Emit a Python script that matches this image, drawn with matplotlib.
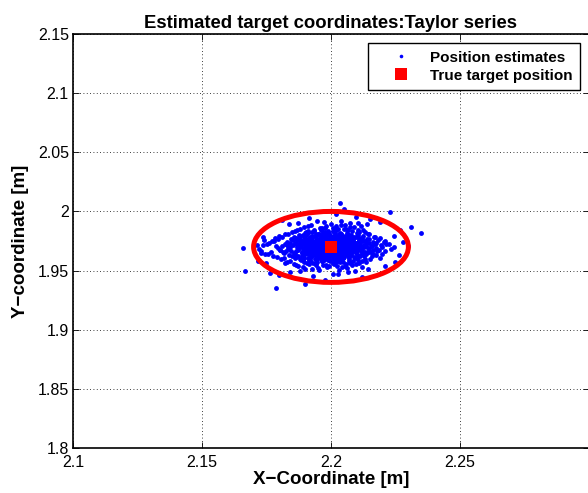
import matplotlib
matplotlib.use("Agg")
import matplotlib.pyplot as plt
from matplotlib.patches import Ellipse

plt.rcParams['font.family'] = ['Liberation Sans', 'DejaVu Sans']

# ---------------- data ----------------
title = "Estimated target coordinates:Taylor series"
x_label = "X\u2212Coordinate [m]"
y_label = "Y\u2212coordinate [m]"

x_ticks = [2.1, 2.15, 2.2, 2.25]
x_tick_labels = ["2.1", "2.15", "2.2", "2.25"]
y_ticks = [1.8, 1.85, 1.9, 1.95, 2.0, 2.05, 2.1, 2.15]
y_tick_labels = ["1.8", "1.85", "1.9", "1.95", "2", "2.05", "2.1", "2.15"]
x_limits = [2.1, 2.3]
y_limits = [1.8, 2.15]

true_x = [2.2]
true_y = [1.97]

ellipse_center = (2.2, 1.97)
ellipse_radius_x = 0.03
ellipse_radius_y = 0.03

est_x = [
    2.1785, 2.1842, 2.1876, 2.1891, 2.1914, 2.1923, 2.1939, 2.1952, 2.1961, 2.1976, 2.1983, 2.1997,
    2.2008, 2.2019, 2.2027, 2.2041, 2.2053, 2.2064, 2.2072, 2.2093, 2.2106, 2.2129, 2.2154, 2.2198,
    2.1752, 2.1828, 2.1869, 2.1885, 2.1906, 2.1921, 2.1934, 2.1948, 2.1965, 2.1972, 2.1989, 2.2002,
    2.2013, 2.2025, 2.2036, 2.2047, 2.2060, 2.2078, 2.2089, 2.2112, 2.2135, 2.2169, 2.2223,
    2.1804, 2.1837, 2.1872, 2.1898, 2.1910, 2.1929, 2.1941, 2.1956, 2.1967, 2.1979, 2.1991, 2.2004,
    2.2015, 2.2022, 2.2034, 2.2050, 2.2058, 2.2070, 2.2084, 2.2101, 2.2122, 2.2146, 2.2185,
    2.1779, 2.1840, 2.1880, 2.1896, 2.1919, 2.1930, 2.1945, 2.1958, 2.1970, 2.1981, 2.1994,
    2.2009, 2.2020, 2.2031, 2.2044, 2.2056, 2.2069, 2.2082, 2.2098, 2.2124, 2.2149, 2.2206,
    2.1767, 2.1825, 2.1863, 2.1889, 2.1904, 2.1926, 2.1937, 2.1954, 2.1968, 2.1977, 2.1990,
    2.2001, 2.2014, 2.2028, 2.2039, 2.2051, 2.2066, 2.2080, 2.2096, 2.2117, 2.2142, 2.2178,
    2.1796, 2.1854, 2.1882, 2.1908, 2.1924, 2.1942, 2.1955, 2.1971, 2.1986, 2.1998,
    2.2011, 2.2024, 2.2038, 2.2054, 2.2068, 2.2087, 2.2109, 2.2138, 2.2181,
    2.1744, 2.1818, 2.1861, 2.1890, 2.1917, 2.1931, 2.1950, 2.1964, 2.1980, 2.1993,
    2.2006, 2.2018, 2.2033, 2.2046, 2.2062, 2.2079, 2.2103, 2.2126, 2.2162,
    2.1811, 2.1866, 2.1894, 2.1916, 2.1938, 2.1957, 2.1974, 2.1988,
    2.2005, 2.2021, 2.2035, 2.2052, 2.2074, 2.2095, 2.2121, 2.2166,
    2.1790, 2.1849, 2.1887, 2.1909, 2.1933, 2.1951, 2.1969, 2.1985,
    2.2003, 2.2017, 2.2030, 2.2049, 2.2065, 2.2088, 2.2114, 2.2158,
    2.1833, 2.1878, 2.1903, 2.1928, 2.1949, 2.1966, 2.1984,
    2.2000, 2.2016, 2.2032, 2.2055, 2.2077, 2.2104, 2.2143,
    2.1808, 2.1860, 2.1892, 2.1920, 2.1944, 2.1962, 2.1978,
    2.1996, 2.2012, 2.2029, 2.2045, 2.2071, 2.2099, 2.2132,
    2.1847, 2.1899, 2.1927, 2.1953, 2.1975, 2.1992, 2.2010, 2.2037, 2.2063, 2.2110,
    2.1830, 2.1884, 2.1918, 2.1947, 2.1973, 2.1995, 2.2023, 2.2048, 2.2085, 2.2137,
    2.1870, 2.1912, 2.1960, 2.1987, 2.2026, 2.2067, 2.2125,
    2.1856, 2.1907, 2.1943, 2.1982, 2.2019, 2.2059, 2.2108,
    2.1895, 2.1956, 2.2007, 2.2050, 2.2091,
    2.1873, 2.1940, 2.1991, 2.2042, 2.2081,
    2.1922, 2.1979, 2.2039, 2.2116,
    2.1901, 2.1986, 2.2061,
    2.1874, 2.1999, 2.2075,
    2.1954, 2.2094,
    2.1947, 2.2040,
    2.1843, 2.2028,
    2.2098, 2.1913,
    2.1932, 2.2120,
    2.2020,
    2.1976,
    2.1659, 2.1667, 2.1787, 2.2035, 2.2229, 2.2050, 2.2349, 2.2310, 2.1900,
    2.1717, 2.1740, 2.1764, 2.2267, 2.2298, 2.2248, 2.2190,
    2.2280, 2.2262, 2.2245, 2.2210,
    2.1712, 2.1728, 2.1735, 2.1750,
    2.1737, 2.1809, 2.1852, 2.1879, 2.1901, 2.1917, 2.1932, 2.1944, 2.1959, 2.1971, 2.1981, 2.1992,
    2.2004, 2.2014, 2.2029, 2.2039, 2.2057, 2.2073, 2.2081, 2.2100, 2.2127, 2.2159, 2.2194, 2.2246,
    2.1720, 2.1794, 2.1835, 2.1867, 2.1890, 2.1905, 2.1925, 2.1936, 2.1949, 2.1964, 2.1978, 2.1988,
    2.2001, 2.2011, 2.2023, 2.2035, 2.2049, 2.2063, 2.2076, 2.2097, 2.2118, 2.2144, 2.2176, 2.2231,
    2.1760, 2.1820, 2.1859, 2.1883, 2.1907, 2.1924, 2.1940, 2.1955, 2.1967, 2.1980, 2.1993,
    2.2006, 2.2018, 2.2030, 2.2043, 2.2059, 2.2075, 2.2092, 2.2113, 2.2139, 2.2173, 2.2214,
    2.1729, 2.1801, 2.1846, 2.1874, 2.1897, 2.1915, 2.1930, 2.1946, 2.1960, 2.1974, 2.1987,
    2.2000, 2.2012, 2.2025, 2.2037, 2.2052, 2.2067, 2.2086, 2.2104, 2.2130, 2.2164, 2.2208,
    2.1770, 2.1831, 2.1868, 2.1893, 2.1911, 2.1931, 2.1947, 2.1961, 2.1977, 2.1990,
    2.2003, 2.2017, 2.2033, 2.2048, 2.2065, 2.2083, 2.2107, 2.2131, 2.2163, 2.2210,
    2.1756, 2.1814, 2.1857, 2.1886, 2.1910, 2.1927, 2.1943, 2.1957, 2.1972, 2.1985,
    2.1999, 2.2013, 2.2027, 2.2041, 2.2058, 2.2077, 2.2096, 2.2120, 2.2152, 2.2199,
    2.1783, 2.1844, 2.1877, 2.1904, 2.1926, 2.1945, 2.1963, 2.1980, 2.1996,
    2.2010, 2.2026, 2.2044, 2.2062, 2.2084, 2.2110, 2.2146, 2.2190,
    2.1774, 2.1839, 2.1871, 2.1900, 2.1922, 2.1941, 2.1959, 2.1976, 2.1994,
    2.2009, 2.2024, 2.2040, 2.2056, 2.2078, 2.2102, 2.2134, 2.2175,
    2.1800, 2.1858, 2.1891, 2.1920, 2.1941, 2.1964, 2.1982,
    2.2002, 2.2022, 2.2042, 2.2066, 2.2090, 2.2123, 2.2170,
    2.1817, 2.1864, 2.1896, 2.1923, 2.1946, 2.1970, 2.1989,
    2.2008, 2.2026, 2.2046, 2.2069, 2.2093, 2.2128, 2.2188,
    2.1822, 2.1875, 2.1911, 2.1940, 2.1968, 2.1991, 2.2015, 2.2040, 2.2070, 2.2101, 2.2148,
    2.1840, 2.1881, 2.1914, 2.1939, 2.1965, 2.1990, 2.2016, 2.2039, 2.2068, 2.2106, 2.2151,
    2.1860, 2.1902, 2.1936, 2.1970, 2.2009, 2.2036, 2.2080, 2.2133,
    2.1820, 2.1894, 2.1930, 2.1967, 2.2006, 2.2034, 2.2074, 2.2122,
    2.1880, 2.1934, 2.1978, 2.2021, 2.2060, 2.2105,
    2.1865, 2.1916, 2.1969, 2.2010, 2.2054, 2.2097,
    2.1910, 2.1967, 2.2018, 2.2072,
    2.1890, 2.1951, 2.2025, 2.2119,
    2.1839, 2.2055, 2.2140,
    2.1928, 2.2031, 2.2144,
    2.1972, 2.2103,
    2.1878, 2.2064,
    2.2153, 2.1812,
    2.2009, 2.1800,
]
est_y = [
    1.9706, 1.9696, 1.9702, 1.9693, 1.9709, 1.9699, 1.9704, 1.9691, 1.9700, 1.9707, 1.9695, 1.9703,
    1.9698, 1.9708, 1.9694, 1.9701, 1.9692, 1.9705, 1.9697, 1.9709, 1.9690, 1.9702, 1.9706, 1.9696,
    1.9726, 1.9716, 1.9722, 1.9713, 1.9729, 1.9719, 1.9724, 1.9711, 1.9720, 1.9727, 1.9715, 1.9723,
    1.9718, 1.9728, 1.9714, 1.9721, 1.9712, 1.9725, 1.9717, 1.9729, 1.9710, 1.9722, 1.9726,
    1.9676, 1.9686, 1.9682, 1.9670, 1.9689, 1.9677, 1.9685, 1.9672, 1.9681, 1.9674, 1.9688, 1.9678,
    1.9683, 1.9675, 1.9687, 1.9680, 1.9671, 1.9684, 1.9679, 1.9689, 1.9673, 1.9682, 1.9676,
    1.9746, 1.9736, 1.9742, 1.9733, 1.9749, 1.9739, 1.9744, 1.9731, 1.9740, 1.9747, 1.9735,
    1.9743, 1.9738, 1.9748, 1.9734, 1.9741, 1.9732, 1.9745, 1.9737, 1.9749, 1.9730, 1.9742,
    1.9656, 1.9666, 1.9662, 1.9650, 1.9669, 1.9657, 1.9665, 1.9652, 1.9661, 1.9654, 1.9668,
    1.9658, 1.9663, 1.9655, 1.9667, 1.9660, 1.9651, 1.9664, 1.9659, 1.9669, 1.9653, 1.9662,
    1.9766, 1.9756, 1.9762, 1.9753, 1.9769, 1.9759, 1.9764, 1.9751, 1.9760, 1.9767,
    1.9755, 1.9763, 1.9758, 1.9768, 1.9754, 1.9761, 1.9752, 1.9765, 1.9757,
    1.9636, 1.9646, 1.9642, 1.9630, 1.9649, 1.9637, 1.9645, 1.9632, 1.9641, 1.9634,
    1.9648, 1.9638, 1.9643, 1.9635, 1.9647, 1.9640, 1.9631, 1.9644, 1.9639,
    1.9786, 1.9776, 1.9782, 1.9773, 1.9789, 1.9779, 1.9784, 1.9771,
    1.9780, 1.9787, 1.9775, 1.9783, 1.9778, 1.9788, 1.9774, 1.9781,
    1.9616, 1.9626, 1.9622, 1.9610, 1.9629, 1.9617, 1.9625, 1.9612,
    1.9621, 1.9614, 1.9628, 1.9618, 1.9623, 1.9615, 1.9627, 1.9620,
    1.9806, 1.9796, 1.9802, 1.9793, 1.9809, 1.9799, 1.9804,
    1.9791, 1.9800, 1.9807, 1.9795, 1.9803, 1.9798, 1.9808,
    1.9596, 1.9606, 1.9602, 1.9590, 1.9609, 1.9597, 1.9605,
    1.9592, 1.9601, 1.9594, 1.9608, 1.9598, 1.9603, 1.9595,
    1.9826, 1.9816, 1.9822, 1.9813, 1.9829, 1.9819, 1.9824, 1.9811, 1.9820, 1.9827,
    1.9576, 1.9586, 1.9582, 1.9570, 1.9589, 1.9577, 1.9585, 1.9572, 1.9581, 1.9574,
    1.9846, 1.9836, 1.9842, 1.9833, 1.9849, 1.9839, 1.9844,
    1.9556, 1.9566, 1.9562, 1.9550, 1.9569, 1.9557, 1.9565,
    1.9866, 1.9856, 1.9862, 1.9853, 1.9869,
    1.9536, 1.9546, 1.9542, 1.9530, 1.9549,
    1.9886, 1.9876, 1.9882, 1.9873,
    1.9516, 1.9526, 1.9522,
    1.9906, 1.9896, 1.9902,
    1.9504, 1.9496,
    1.9923, 1.9915,
    1.9484, 1.9475,
    1.9952, 1.9947,
    1.9453, 1.9446,
    1.9978,
    1.9421,
    1.9690, 1.9500, 1.9350, 2.0070, 1.9994, 2.0020, 1.9817, 1.9868, 1.9386,
    1.9580, 1.9758, 1.9479, 1.9842, 1.9707, 1.9572, 1.9910,
    1.9745, 1.9630, 1.9790, 1.9535,
    1.9712, 1.9650, 1.9780, 1.9560,
    1.9713, 1.9704, 1.9717, 1.9706, 1.9712, 1.9701, 1.9718, 1.9708, 1.9703, 1.9715, 1.9710, 1.9702,
    1.9716, 1.9707, 1.9714, 1.9705, 1.9719, 1.9709, 1.9700, 1.9711, 1.9717, 1.9706, 1.9713, 1.9703,
    1.9683, 1.9695, 1.9687, 1.9698, 1.9681, 1.9692, 1.9686, 1.9697, 1.9680, 1.9690, 1.9694, 1.9684,
    1.9699, 1.9688, 1.9682, 1.9696, 1.9689, 1.9685, 1.9693, 1.9681, 1.9698, 1.9687, 1.9691, 1.9684,
    1.9733, 1.9724, 1.9737, 1.9726, 1.9732, 1.9721, 1.9738, 1.9728, 1.9723, 1.9735, 1.9730,
    1.9722, 1.9736, 1.9727, 1.9734, 1.9725, 1.9739, 1.9729, 1.9720, 1.9731, 1.9737, 1.9726,
    1.9663, 1.9675, 1.9667, 1.9678, 1.9661, 1.9672, 1.9666, 1.9677, 1.9660, 1.9670, 1.9674,
    1.9664, 1.9679, 1.9668, 1.9662, 1.9676, 1.9669, 1.9665, 1.9673, 1.9661, 1.9678, 1.9667,
    1.9753, 1.9744, 1.9757, 1.9746, 1.9752, 1.9741, 1.9758, 1.9748, 1.9743, 1.9755,
    1.9750, 1.9742, 1.9756, 1.9747, 1.9754, 1.9745, 1.9759, 1.9749, 1.9740, 1.9751,
    1.9643, 1.9655, 1.9647, 1.9658, 1.9641, 1.9652, 1.9646, 1.9657, 1.9640, 1.9650,
    1.9654, 1.9644, 1.9659, 1.9648, 1.9642, 1.9656, 1.9649, 1.9645, 1.9653, 1.9641,
    1.9773, 1.9764, 1.9777, 1.9766, 1.9772, 1.9761, 1.9778, 1.9768, 1.9763,
    1.9775, 1.9770, 1.9762, 1.9776, 1.9767, 1.9774, 1.9765, 1.9779,
    1.9623, 1.9635, 1.9627, 1.9638, 1.9621, 1.9632, 1.9626, 1.9637, 1.9620,
    1.9630, 1.9634, 1.9624, 1.9639, 1.9628, 1.9622, 1.9636, 1.9629,
    1.9793, 1.9784, 1.9797, 1.9786, 1.9792, 1.9781, 1.9798,
    1.9788, 1.9783, 1.9795, 1.9790, 1.9782, 1.9796, 1.9787,
    1.9603, 1.9615, 1.9607, 1.9618, 1.9601, 1.9612, 1.9606,
    1.9617, 1.9600, 1.9610, 1.9614, 1.9604, 1.9619, 1.9608,
    1.9813, 1.9804, 1.9817, 1.9806, 1.9812, 1.9801, 1.9818, 1.9808, 1.9803, 1.9815, 1.9810,
    1.9583, 1.9595, 1.9587, 1.9598, 1.9581, 1.9592, 1.9586, 1.9597, 1.9580, 1.9590, 1.9594,
    1.9833, 1.9824, 1.9837, 1.9826, 1.9832, 1.9821, 1.9838, 1.9828,
    1.9563, 1.9575, 1.9567, 1.9578, 1.9561, 1.9572, 1.9566, 1.9577,
    1.9853, 1.9844, 1.9857, 1.9846, 1.9852, 1.9841,
    1.9543, 1.9555, 1.9547, 1.9558, 1.9541, 1.9552,
    1.9873, 1.9864, 1.9877, 1.9866,
    1.9533, 1.9525, 1.9537, 1.9528,
    1.9893, 1.9884, 1.9897,
    1.9513, 1.9505, 1.9517,
    1.9913, 1.9904,
    1.9493, 1.9485,
    1.9934, 1.9928,
    1.9473, 1.9466,
]

legend_labels = ["Position estimates", "True target position"]

# ---------------- figure ----------------
fig = plt.figure(figsize=(5.88, 4.93), dpi=100)
ax = fig.add_axes([73 / 588, 45 / 493, 516 / 588, 414 / 493])

ax.plot(est_x, est_y, linestyle='none', marker='o', markersize=3.5,
        markeredgewidth=0, color='#0000ff', label=legend_labels[0], zorder=3)
ax.add_patch(Ellipse(ellipse_center, 2 * ellipse_radius_x, 2 * ellipse_radius_y,
                     fill=False, edgecolor='#ff0000', linewidth=3.6, zorder=4))
ax.plot(true_x, true_y, linestyle='none', marker='s', markersize=8.3,
        markeredgewidth=0, color='#ff0000', label=legend_labels[1], zorder=5)

ax.set_xlim(x_limits)
ax.set_ylim(y_limits)
ax.set_xticks(x_ticks)
ax.set_xticklabels(x_tick_labels)
ax.set_yticks(y_ticks)
ax.set_yticklabels(y_tick_labels)
ax.tick_params(direction='in', length=4, width=0.6, labelsize=11.5,
               top=True, right=True)
ax.tick_params(axis='x', pad=5)
ax.tick_params(axis='y', pad=3)
ax.grid(True, linestyle=(0, (1, 3)), color='black', linewidth=0.6)
for s in ax.spines.values():
    s.set_linewidth(1.2)

ax.set_title(title, fontsize=13.3, fontweight='bold', pad=4)
ax.set_xlabel(x_label, fontsize=13.5, fontweight='bold', labelpad=1)
ax.set_ylabel(y_label, fontsize=13.5, fontweight='bold', labelpad=6)

leg = ax.legend(loc='upper right', prop={'weight': 'bold', 'size': 11},
                fancybox=False, framealpha=1, edgecolor='black',
                borderaxespad=0.6, handlelength=3.2, handletextpad=0.3,
                markerscale=1.0, borderpad=0.5, labelspacing=0.25)
leg.get_frame().set_linewidth(1.0)
leg.legend_handles[0].set_markersize(2.6)

fig.savefig("out.png", dpi=100)
